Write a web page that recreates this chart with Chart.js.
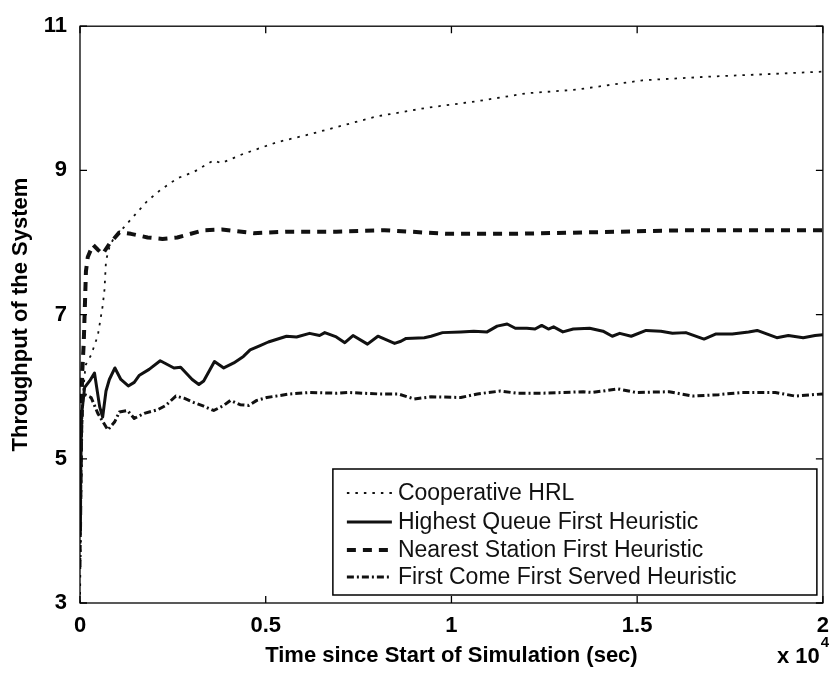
<!DOCTYPE html>
<html lang="en">
<head>
<meta charset="UTF-8">
<title>Throughput of the System</title>
<script src="https://cdn.jsdelivr.net/npm/chart.js@4"></script>
<style>
  html, body { margin: 0; padding: 0; background: #fff; }
  #wrap { width: 839px; height: 684px; }
</style>
</head>
<body>
<div id="wrap"><canvas id="grafico" width="839" height="684"></canvas></div>
<script>
// time in units of 10^4 sec, throughput values
const hrlPoints = [
  [0, 3.0], [0.003, 4.5], [0.006, 5.3], [0.008, 5.9], [0.015, 6.3], [0.03, 6.44],
  [0.048, 6.71], [0.061, 7.12], [0.066, 7.35], [0.07, 7.75], [0.08, 7.95], [0.09, 8.05],
  [0.106, 8.14], [0.142, 8.35], [0.182, 8.58], [0.217, 8.73], [0.262, 8.89], [0.307, 8.98],
  [0.36, 9.14], [0.38, 9.10], [0.44, 9.23], [0.53, 9.39], [0.618, 9.50], [0.69, 9.60],
  [0.80, 9.75], [0.936, 9.87], [1.07, 9.96], [1.203, 10.07], [1.337, 10.12], [1.515, 10.25],
  [1.693, 10.30], [1.872, 10.34], [2.0, 10.37]
];
const hqfPoints = [
  [0, 4.0], [0.004, 5.6], [0.0125, 5.99], [0.026, 6.08], [0.039, 6.19], [0.053, 5.72],
  [0.061, 5.58], [0.070, 5.94], [0.079, 6.10], [0.094, 6.26], [0.11, 6.10], [0.13, 6.01],
  [0.146, 6.06], [0.16, 6.16], [0.186, 6.24], [0.216, 6.36], [0.253, 6.26], [0.271, 6.27],
  [0.302, 6.10], [0.32, 6.03], [0.333, 6.08], [0.362, 6.35], [0.387, 6.26], [0.414, 6.33],
  [0.44, 6.42], [0.458, 6.51], [0.485, 6.57], [0.507, 6.62], [0.556, 6.70], [0.583, 6.69],
  [0.618, 6.74], [0.645, 6.71], [0.659, 6.75], [0.69, 6.69], [0.713, 6.61], [0.735, 6.71],
  [0.774, 6.59], [0.802, 6.70], [0.847, 6.60], [0.864, 6.63], [0.878, 6.67], [0.927, 6.68],
  [0.945, 6.70], [0.976, 6.75], [1.025, 6.76], [1.06, 6.77], [1.096, 6.76], [1.123, 6.84],
  [1.15, 6.87], [1.172, 6.81], [1.203, 6.81], [1.225, 6.80], [1.243, 6.85], [1.261, 6.80],
  [1.275, 6.83], [1.30, 6.76], [1.328, 6.80], [1.372, 6.81], [1.408, 6.77], [1.433, 6.70],
  [1.453, 6.74], [1.484, 6.70], [1.524, 6.78], [1.564, 6.77], [1.595, 6.74], [1.631, 6.75],
  [1.68, 6.66], [1.711, 6.73], [1.756, 6.73], [1.80, 6.76], [1.823, 6.78], [1.876, 6.68],
  [1.907, 6.71], [1.947, 6.68], [1.979, 6.71], [2.0, 6.72]
];
const nsfPoints = [
  [0, 4.0], [0.003, 5.5], [0.006, 6.2], [0.01, 6.6], [0.013, 7.1], [0.016, 7.6],
  [0.021, 7.8], [0.035, 7.97], [0.048, 7.9], [0.061, 7.84], [0.079, 7.98], [0.106, 8.14],
  [0.137, 8.12], [0.182, 8.07], [0.222, 8.05], [0.262, 8.07], [0.333, 8.17], [0.382, 8.18],
  [0.467, 8.13], [0.556, 8.15], [0.69, 8.15], [0.82, 8.17], [0.99, 8.12], [1.16, 8.12],
  [1.364, 8.14], [1.63, 8.17], [2.0, 8.17]
];
const fcfsPoints = [
  [0, 3.5], [0.003, 5.2], [0.008, 5.90], [0.030, 5.85], [0.048, 5.63], [0.075, 5.40],
  [0.093, 5.51], [0.106, 5.65], [0.128, 5.67], [0.146, 5.56], [0.173, 5.63], [0.209, 5.68],
  [0.231, 5.74], [0.258, 5.87], [0.28, 5.84], [0.307, 5.78], [0.333, 5.73], [0.36, 5.67],
  [0.387, 5.74], [0.405, 5.81], [0.431, 5.75], [0.454, 5.74], [0.476, 5.81], [0.503, 5.85],
  [0.565, 5.90], [0.618, 5.92], [0.69, 5.91], [0.722, 5.92], [0.802, 5.90], [0.856, 5.90],
  [0.90, 5.83], [0.945, 5.86], [1.025, 5.85], [1.07, 5.90], [1.132, 5.94], [1.176, 5.91],
  [1.248, 5.91], [1.355, 5.93], [1.38, 5.92], [1.448, 5.97], [1.497, 5.92], [1.586, 5.93],
  [1.649, 5.87], [1.72, 5.89], [1.782, 5.92], [1.872, 5.92], [1.925, 5.87], [2.0, 5.90]
];

const seriesNames = [
  'Cooperative HRL',
  'Highest Queue First Heuristic',
  'Nearest Station First Heuristic',
  'First Come First Served Heuristic'
];
const xTickValues = [0, 0.5, 1, 1.5, 2];
const yTickValues = [3, 5, 7, 9, 11];
const xTitle = 'Time since Start of Simulation (sec)';
const yTitle = 'Throughput of the System';
const xExponent = ['x 10', '4'];

const FONT = '"Liberation Sans", Arial, Helvetica, sans-serif';
const INK = '#111';

function toXY(pts) { return pts.map(p => ({ x: p[0], y: p[1] })); }

function serie(label, pts, width, dash) {
  return {
    label: label,
    data: toXY(pts),
    borderColor: INK,
    borderWidth: width,
    borderDash: dash,
    borderCapStyle: 'butt',
    borderJoinStyle: 'round',
    pointRadius: 0,
    tension: 0,
    fill: false
  };
}

// box around the plot, inward ticks on all four sides, legend and the x10^4 note
const moldura = {
  id: 'moldura',
  afterDatasetsDraw(chart) {
    const { ctx, chartArea: a, scales } = chart;
    const tick = 7;
    ctx.save();
    ctx.strokeStyle = '#000';
    ctx.lineWidth = 1.3;
    ctx.setLineDash([]);
    ctx.strokeRect(a.left, a.top, a.right - a.left, a.bottom - a.top);
    ctx.beginPath();
    xTickValues.forEach(v => {
      const px = scales.x.getPixelForValue(v);
      ctx.moveTo(px, a.bottom); ctx.lineTo(px, a.bottom - tick);
      ctx.moveTo(px, a.top); ctx.lineTo(px, a.top + tick);
    });
    yTickValues.forEach(v => {
      const py = scales.y.getPixelForValue(v);
      ctx.moveTo(a.left, py); ctx.lineTo(a.left + tick, py);
      ctx.moveTo(a.right, py); ctx.lineTo(a.right - tick, py);
    });
    ctx.stroke();

    // legend
    const bx = a.right - 490, by = a.bottom - 134, bw = 484, bh = 126;
    ctx.fillStyle = '#fff';
    ctx.fillRect(bx, by, bw, bh);
    ctx.lineWidth = 1.5;
    ctx.strokeRect(bx, by, bw, bh);
    const rows = [24, 53, 81, 108];
    ctx.font = '23px ' + FONT;
    ctx.textBaseline = 'middle';
    ctx.textAlign = 'left';
    chart.data.datasets.forEach((ds, i) => {
      const y = by + rows[i];
      ctx.strokeStyle = INK;
      ctx.lineWidth = ds.borderWidth;
      ctx.setLineDash(ds.borderDash || []);
      ctx.beginPath();
      ctx.moveTo(bx + 14, y);
      ctx.lineTo(bx + 59, y);
      ctx.stroke();
      ctx.setLineDash([]);
      ctx.fillStyle = INK;
      ctx.fillText(ds.label, bx + 65, y + 1);
    });

    // x 10^4
    ctx.fillStyle = '#000';
    ctx.textBaseline = 'alphabetic';
    ctx.font = 'bold 22px ' + FONT;
    const ex = 777, ey = 663;
    ctx.fillText(xExponent[0], ex, ey);
    const w = ctx.measureText(xExponent[0]).width;
    ctx.font = 'bold 15px ' + FONT;
    ctx.fillText(xExponent[1], ex + w + 1, ey - 16);
    ctx.restore();
  }
};

const tickFont = { family: FONT, size: 22, weight: 'bold' };

new Chart(document.getElementById('grafico').getContext('2d'), {
  type: 'line',
  data: {
    datasets: [
      serie(seriesNames[0], hrlPoints, 1.8, [2.5, 6]),
      serie(seriesNames[1], hqfPoints, 3, []),
      serie(seriesNames[2], nsfPoints, 4, [9, 7]),
      serie(seriesNames[3], fcfsPoints, 3, [7, 3, 2, 3])
    ]
  },
  options: {
    responsive: false,
    animation: false,
    layout: { padding: { top: 15, right: 11, left: 0, bottom: 0 } },
    plugins: { legend: { display: false }, tooltip: { enabled: false } },
    scales: {
      x: {
        type: 'linear',
        min: 0, max: 2,
        afterFit: s => { s.height = 81; },
        afterBuildTicks: s => { s.ticks = xTickValues.map(v => ({ value: v })); },
        grid: { display: false, drawTicks: false },
        border: { display: false },
        ticks: { padding: 10, color: '#000', font: tickFont, maxRotation: 0, callback: v => String(v) },
        title: { display: true, text: xTitle, color: '#000', font: tickFont, padding: { top: 0, bottom: 15 } }
      },
      y: {
        type: 'linear',
        min: 3, max: 11,
        afterFit: s => { s.width = 80; },
        afterBuildTicks: s => { s.ticks = yTickValues.map(v => ({ value: v })); },
        grid: { display: false, drawTicks: false },
        border: { display: false },
        ticks: { padding: 13, color: '#000', font: tickFont, callback: v => String(v) },
        title: { display: true, text: yTitle, color: '#000', font: tickFont, padding: { top: 8, bottom: 0 } }
      }
    }
  },
  plugins: [moldura]
});
</script>
</body>
</html>
